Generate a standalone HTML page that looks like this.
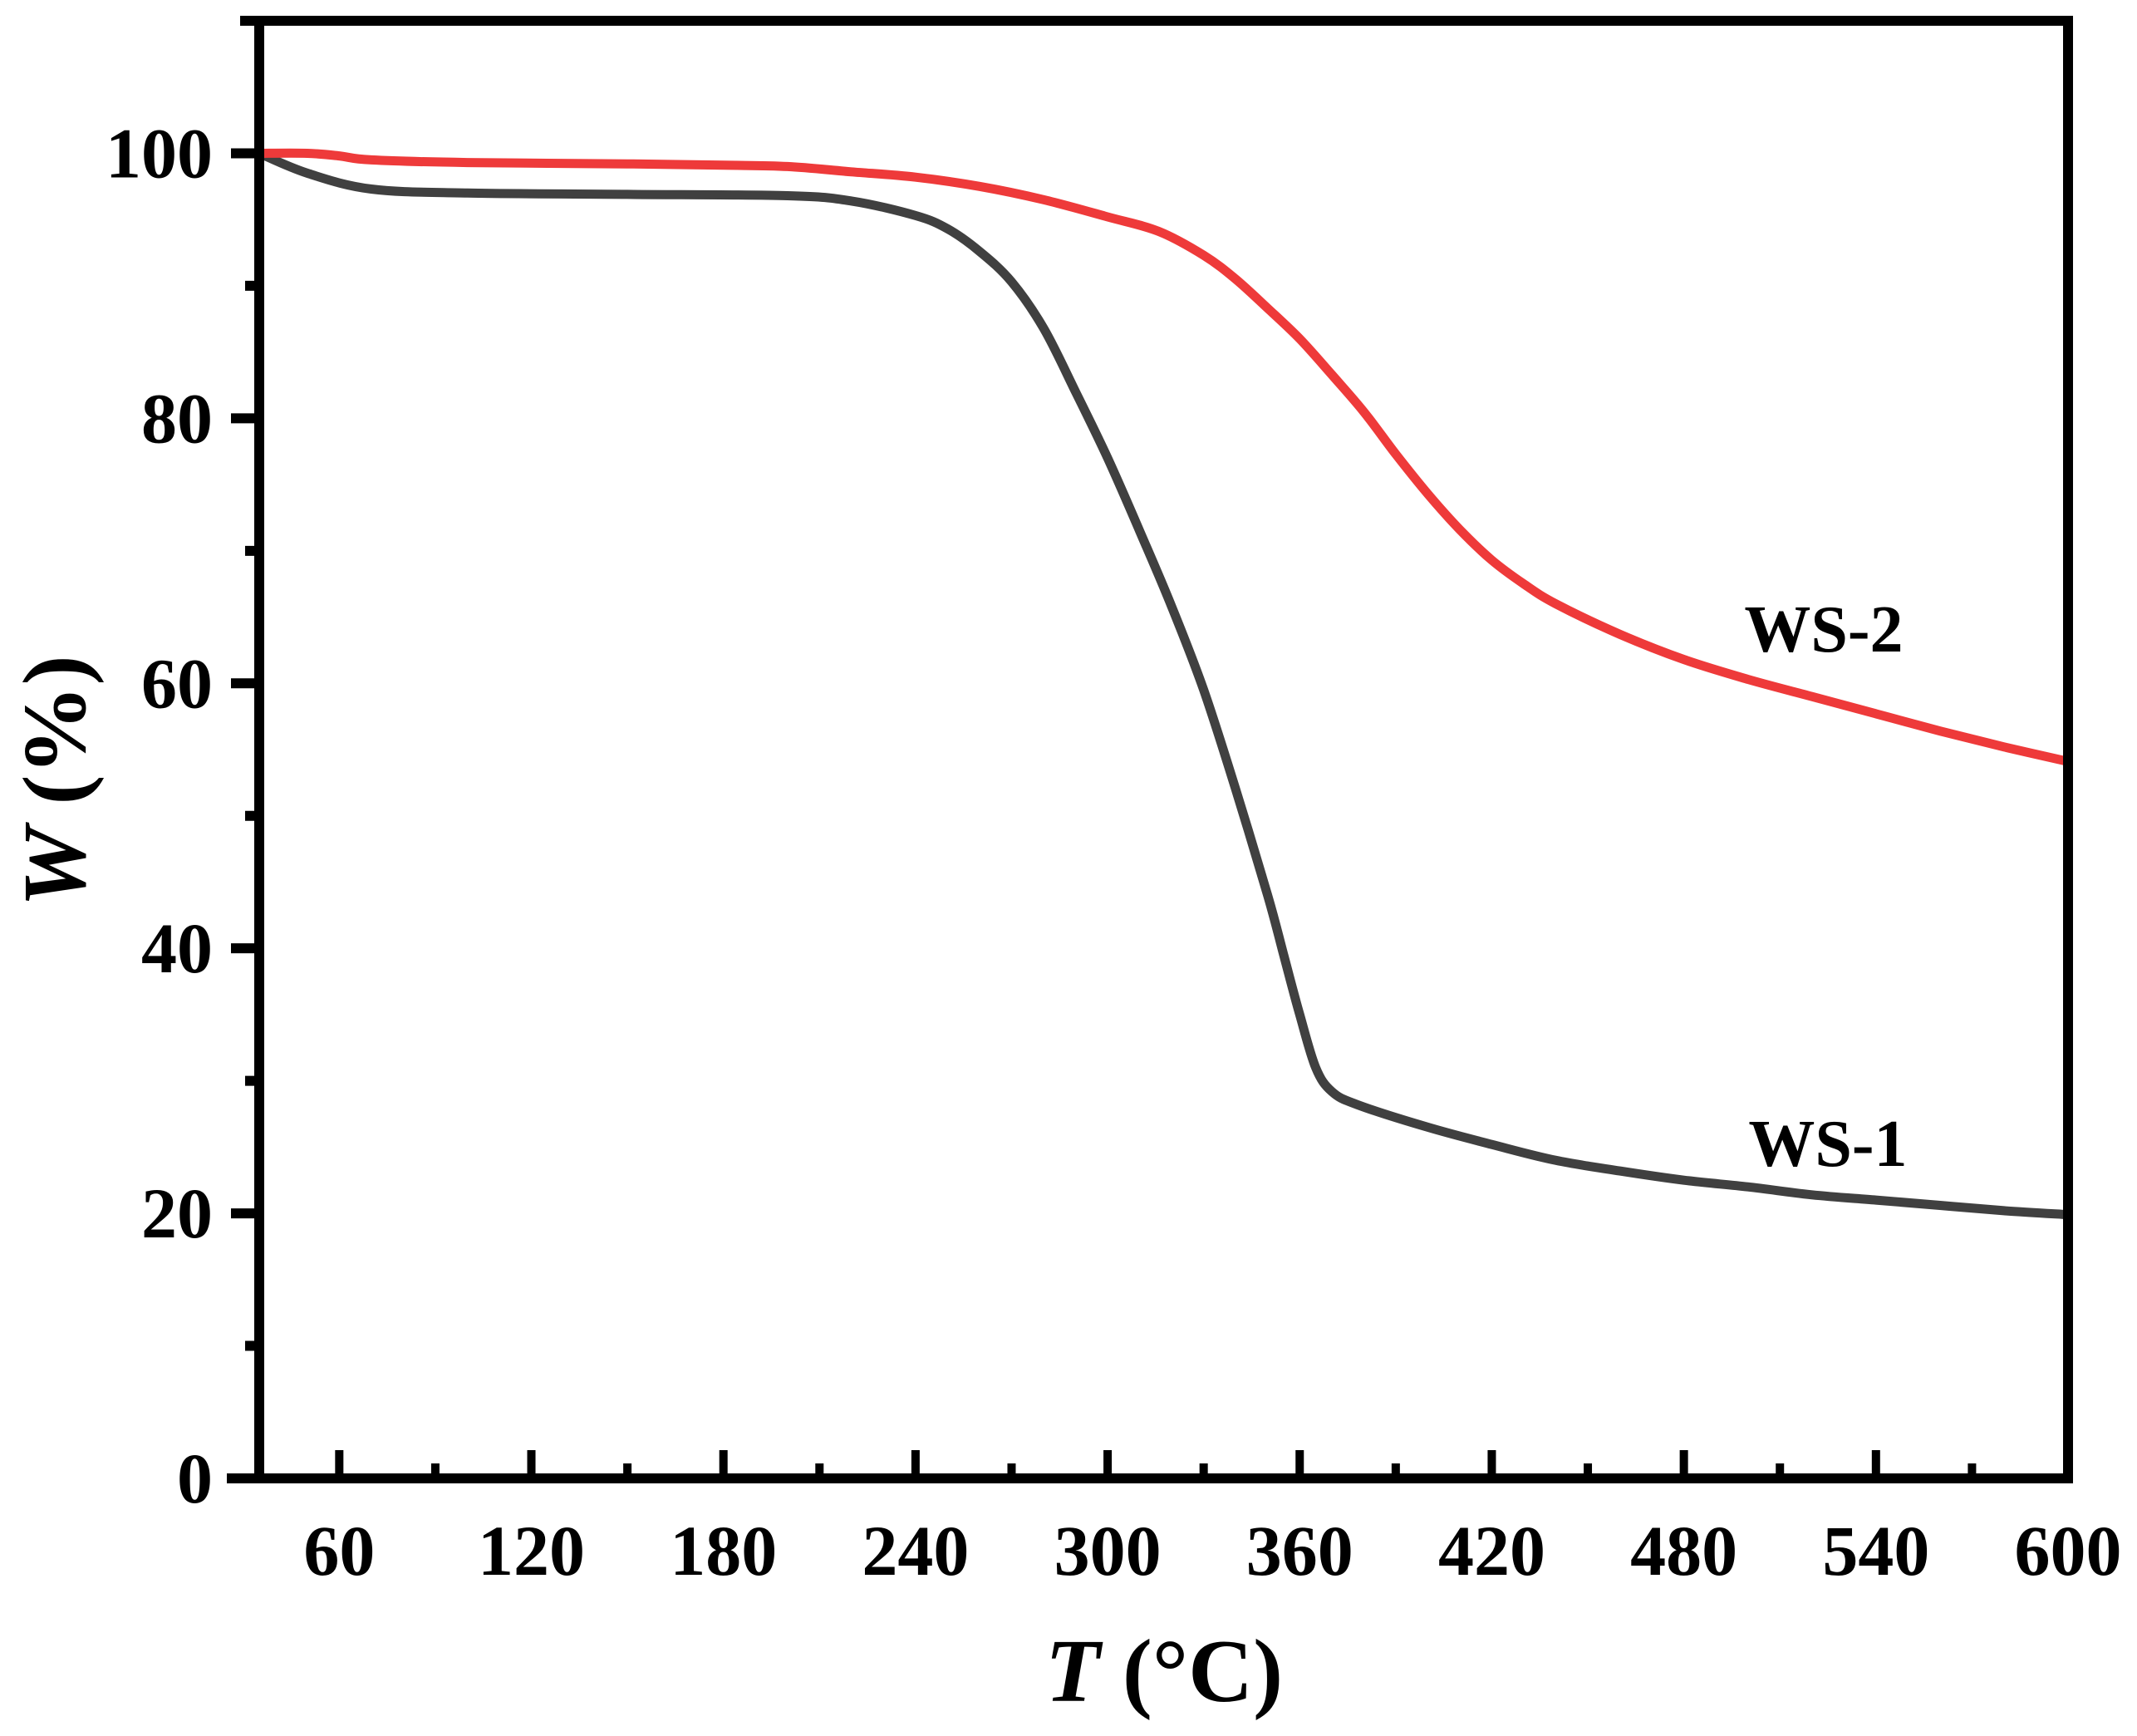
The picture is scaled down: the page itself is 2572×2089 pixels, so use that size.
<!DOCTYPE html>
<html><head><meta charset="utf-8"><style>
html,body{margin:0;padding:0;background:#fff;}
svg{display:block;}
text{font-family:"Liberation Serif","Times New Roman",Times,serif;font-weight:700;fill:#000;}
</style></head><body>
<svg id="chart" width="2572" height="2089" viewBox="0 0 2572 2089" xmlns="http://www.w3.org/2000/svg">
<rect width="2572" height="2089" fill="#fff"/>
<g id="curves"></g>
<g id="axes"></g>
<text x="2195" y="784" font-family="Liberation Serif, serif" font-size="80" text-anchor="middle">WS-2</text>
<text x="2200" y="1403" font-family="Liberation Serif, serif" font-size="80" text-anchor="middle">WS-1</text>
<text x="1401" y="2047" font-family="Liberation Serif, serif" font-size="108" text-anchor="middle"><tspan font-style="italic">T</tspan> (°C)</text>
<text transform="translate(102,940) rotate(-90)" font-family="Liberation Serif, serif" font-size="108" text-anchor="middle"><tspan font-style="italic">W</tspan> (%)</text>
</svg>
<script>
const xTicks = [60,120,180,240,300,360,420,480,540,600];
const xMinor = [90,150,210,270,330,390,450,510,570];
const yTicks = [0,20,40,60,80,100];
const yMinor = [10,30,50,70,90];
const ws1T = [35,50,70,100,150,200,220,240,250,260,270,280,290,300,310,320,330,340,350,355,360,365,370,378,400,420,440,460,480,500,520,540,560,580,600];
const ws1W = [100,98.5,97.3,97,96.9,96.8,96.4,95.3,94.3,92.6,90.3,86.8,82,77,71.5,65.8,59.5,52,44,39.5,35,31,29.2,28.2,26.5,25.2,24,23.2,22.5,22,21.4,21,20.6,20.2,19.9];
const ws2T = [35,50,60,70,100,150,180,200,220,240,260,280,300,316,330,340,350,360,370,380,390,400,410,420,430,440,460,480,500,520,540,560,580,600];
const ws2W = [100,100,99.8,99.5,99.3,99.2,99.1,99,98.6,98.2,97.5,96.5,95.2,94.1,92.3,90.5,88.3,86,83.3,80.5,77.3,74.3,71.6,69.3,67.5,66,63.7,61.8,60.3,59,57.7,56.4,55.2,54.1];

const X0=312, X1=2489, Y0=1779, Y1=25, XMIN=35, XMAX=600, YMIN=0, YMAX=110;
const NS="http://www.w3.org/2000/svg";
function xs(v){return X0+(v-XMIN)/(XMAX-XMIN)*(X1-X0);}
function ys(v){return Y0-(v-YMIN)/(YMAX-YMIN)*(Y0-Y1);}
function mk(tag,attrs,parent){const e=document.createElementNS(NS,tag);for(const k in attrs)e.setAttribute(k,attrs[k]);parent.appendChild(e);return e;}
const axes=document.getElementById('axes'), curves=document.getElementById('curves');

function pathFor(T,W){
  const p=T.map((t,i)=>[xs(t),ys(W[i])]);
  let d="M"+p[0][0].toFixed(1)+","+p[0][1].toFixed(1);
  for(let i=0;i<p.length-1;i++){
    const a=p[Math.max(i-1,0)],b=p[i],c=p[i+1],e=p[Math.min(i+2,p.length-1)];
    const c1=[b[0]+(c[0]-a[0])/6,b[1]+(c[1]-a[1])/6], c2=[c[0]-(e[0]-b[0])/6,c[1]-(e[1]-b[1])/6];
    d+=" C"+c1.map(v=>v.toFixed(1)).join(",")+" "+c2.map(v=>v.toFixed(1)).join(",")+" "+c[0].toFixed(1)+","+c[1].toFixed(1);
  }
  return d;
}
const l1=mk('path',{d:pathFor(ws1T,ws1W),fill:'none',stroke:'#404040','stroke-width':11,'stroke-linejoin':'round','stroke-linecap':'round'},curves);


const l2=mk('path',{d:pathFor(ws2T,ws2W),fill:'none',stroke:'#ee3a3a','stroke-width':11,'stroke-linejoin':'round','stroke-linecap':'round'},curves);



const frame=mk('path',{d:`M${X0-17},${Y1} H${X1} V${Y0} H${X0-33} M${X0},${Y1} V${Y0}`,fill:'none',stroke:'#000','stroke-width':12,'stroke-linecap':'square'},axes);



xTicks.forEach(v=>{
  const t=mk('line',{x1:xs(v),x2:xs(v),y1:Y0,y2:Y0-34,stroke:'#000','stroke-width':10},axes);
  
  
  const lb=mk('text',{x:xs(v),y:1895,'font-size':86,'font-family':'Liberation Serif, serif','text-anchor':'middle'},axes);
  lb.textContent=v;
  
  
});
xMinor.forEach(v=>{
  const t=mk('line',{x1:xs(v),x2:xs(v),y1:Y0,y2:Y0-18,stroke:'#000','stroke-width':10},axes);
  
  
});
yTicks.forEach(v=>{
  const t=mk('line',{x1:X0,x2:X0-34,y1:ys(v),y2:ys(v),stroke:'#000','stroke-width':12},axes);
  
  
  const lb=mk('text',{x:256,y:ys(v)+29,'font-size':86,'font-family':'Liberation Serif, serif','text-anchor':'end'},axes);
  lb.textContent=v;
  
  
});
yMinor.forEach(v=>{
  const t=mk('line',{x1:X0,x2:X0-17,y1:ys(v),y2:ys(v),stroke:'#000','stroke-width':12},axes);
  
  
});
</script>
</body></html>
